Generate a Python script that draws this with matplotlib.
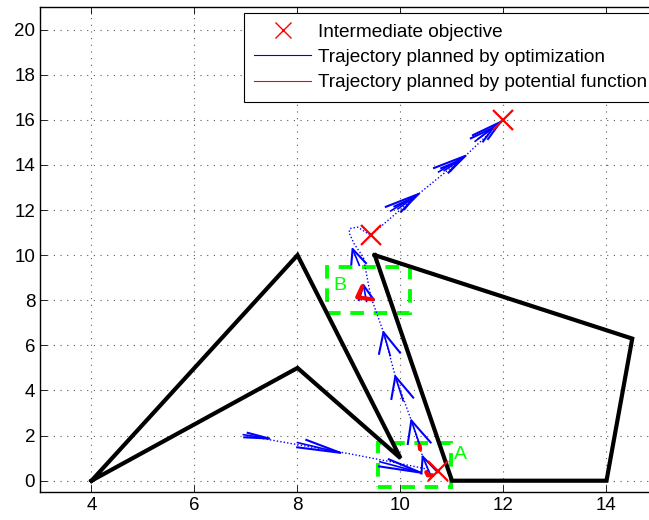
import matplotlib
matplotlib.use("Agg")
import matplotlib.pyplot as plt
import numpy as np

plt.rcParams['font.family'] = ['Liberation Sans', 'DejaVu Sans']

# obstacles (closed polygons)
obs1_x = [4, 8, 10, 8, 4]
obs1_y = [0, 10, 1, 5, 0]
obs2_x = [9.5, 14.5, 14, 11, 9.5]
obs2_y = [10, 6.3, 0, 0, 10]

# intermediate objectives
obj_x = [12, 9.42, 10.72]
obj_y = [16, 10.88, 0.45]

# trajectory planned by optimization (dotted path)
path_x = [7.0, 8.0, 9.0, 9.9, 10.45, 10.55, 10.43, 10.21, 9.90, 9.67, 9.42, 9.28,
          9.10, 9.00, 9.02, 9.17, 9.42, 10.35, 11.26, 12.0]
path_y = [2.0, 1.6, 1.2, 0.8, 0.55, 0.4, 1.07, 2.67, 4.62, 6.58, 8.18, 9.9,
          10.5, 11.0, 11.18, 11.24, 10.88, 12.71, 14.4, 16.0]

# quiver arrows along the optimized trajectory: tails and tips
arr_x0 = [6.95, 8.0, 9.6, 10.58, 10.38, 10.05, 9.80, 9.34, 9.20, 9.81, 9.95, 10.74, 10.85, 11.51, 11.45]
arr_y0 = [2.04, 1.69, 0.84, 0.27, 1.55, 3.55, 5.55, 7.95, 9.55, 11.96, 12.05, 13.69, 13.75, 15.16, 15.05]
arr_x1 = [7.45, 8.83, 10.39, 10.43, 10.21, 9.90, 9.67, 9.28, 9.07, 10.35, 10.25, 11.26, 11.15, 11.94, 11.80]
arr_y1 = [1.87, 1.24, 0.36, 1.07, 2.67, 4.62, 6.58, 8.67, 10.27, 12.71, 12.55, 14.40, 14.20, 15.90, 15.65]

# trajectory planned by potential function (short pieces)
pot_a_x = [10.37, 10.38]
pot_a_y = [1.56, 1.40]
pot_b_x = [10.50, 10.53, 10.62]
pot_b_y = [0.38, 0.24, 0.24]
pot_c_x = [9.26, 9.16, 9.46]
pot_c_y = [8.62, 8.13, 8.04]

# zoom boxes
box_a = (9.57, -0.27, 1.42, 1.96)
box_b = (8.58, 7.42, 1.61, 2.05)

fig = plt.figure(figsize=(6.49, 5.2), dpi=100)
ax = fig.add_axes([40/649, 28/520, 618/649, 485/520])

ax.plot(obs1_x, obs1_y, color='black', lw=3.0, solid_joinstyle='miter')
ax.plot(obs2_x, obs2_y, color='black', lw=3.0, solid_joinstyle='miter')

ax.plot(path_x, path_y, color='#0000ff', lw=1.0, linestyle=(0, (1, 1.5)))

# matlab-like arrowheads
alpha, beta = 0.9, 0.22
for x0, y0, x1, y1 in zip(arr_x0, arr_y0, arr_x1, arr_y1):
    u = x1 - x0
    v = y1 - y0
    hx = [x1 - alpha*(u + beta*v), x1, x1 - alpha*(u - beta*v)]
    hy = [y1 - alpha*(v - beta*u), y1, y1 - alpha*(v + beta*u)]
    ax.plot([x0, x1], [y0, y1], color='#0000ff', lw=1.2)
    ax.plot(hx, hy, color='#0000ff', lw=1.5)

for px, py in [(pot_a_x, pot_a_y), (pot_b_x, pot_b_y), (pot_c_x, pot_c_y)]:
    ax.plot(px, py, color='red', lw=3, solid_capstyle='round')

ax.plot(obj_x, obj_y, 'x', color='red', ms=15, mew=1.6, zorder=5)

for (bx, by, bw, bh) in [box_a, box_b]:
    ax.add_patch(plt.Rectangle((bx, by), bw, bh, fill=False, edgecolor='#00ff00',
                               lw=2.8, linestyle=(0, (3.5, 2.5))))
ax.text(11.17, 1.16, 'A', color='#00ff00', fontsize=14, ha='center', va='center')
ax.text(8.83, 8.67, 'B', color='#00ff00', fontsize=14, ha='center', va='center')

# legend proxies
h1, = ax.plot([], [], 'x', color='red', ms=11, mew=1)
h2, = ax.plot([], [], color='#0000ff', lw=0.8)
h3, = ax.plot([], [], color='red', lw=0.8)
leg = ax.legend([h1, h2, h3], ['Intermediate objective', 'Trajectory planned by optimization',
                               'Trajectory planned by potential function'],
                loc='upper left', bbox_to_anchor=(0.330, 0.9876), borderaxespad=0,
                fancybox=False, framealpha=1, edgecolor='black', fontsize=13.7,
                handlelength=3.0, handletextpad=0.32, labelspacing=0.42, borderpad=0.55)
leg.get_frame().set_linewidth(0.8)

ax.set_xlim(3, 15)
ax.set_ylim(-0.5, 21)
ax.set_xticks(np.arange(4, 15, 2))
ax.set_yticks(np.arange(0, 21, 2))
ax.tick_params(direction='in', top=True, right=True, labelsize=13.5, length=5, width=0.6)
ax.grid(True, color='0.35', linestyle=(0, (1, 5)), lw=0.8)
for s in ax.spines.values():
    s.set_linewidth(1.0)

fig.savefig('out.png', dpi=100)
